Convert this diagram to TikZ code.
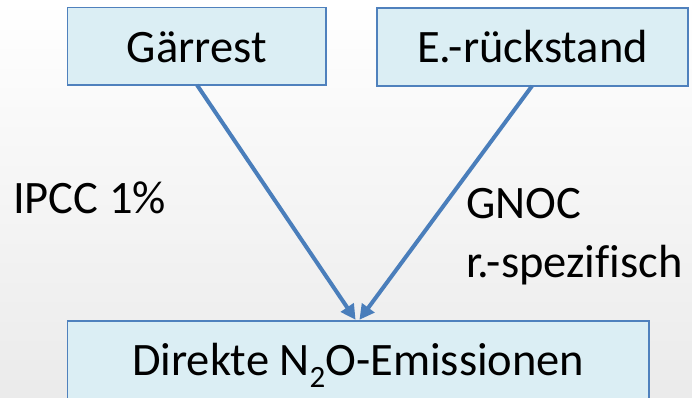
\documentclass[tikz,border=0pt]{standalone}
\usepackage{fontspec}
\setmainfont{Carlito}[Ligatures=CommonOff]
\usetikzlibrary{arrows.meta}
\definecolor{boxfill}{HTML}{DBEEF4}
\definecolor{boxline}{HTML}{4F81BD}
\definecolor{arrowc}{HTML}{4A7EBB}
\tikzset{
  bigfont/.style={font=\fontsize{46.5bp}{56bp}\selectfont},
  boxnode/.style={draw=boxline, line width=1.5bp, fill=boxfill, rectangle, inner sep=0pt,
    text height=32bp, text depth=0.5bp, bigfont},
  conn/.style={draw=arrowc, line width=4bp, -{Triangle[length=15bp,width=15bp]}, shorten >=-1bp},
  lbl/.style={inner sep=0pt, bigfont, text=black},
}
\begin{document}
\begin{tikzpicture}[x=1bp,y=-1bp]
\useasboundingbox (0,0) rectangle (692,397);
\shade[top color=white, bottom color=black!8] (0,0) rectangle (692,397);
\begin{scope}
\clip (0,0) rectangle (692,397);
\node[boxnode, minimum width=258.5bp, minimum height=77.5bp] (gar) at (196.75,46.25) {Gärrest};
\node[boxnode, minimum width=311bp, minimum height=78bp] (erk) at (532.5,47) {E.-rückstand};
\node[boxnode, minimum width=581.5bp, minimum height=77.5bp] (dir) at (358.25,359.6)
  {Direkte N\raisebox{-0.26em}{\fontsize{31bp}{31bp}\selectfont 2}O-Emissionen};
\end{scope}
\coordinate (t1) at (355,319);
\coordinate (t2) at (360,319);
\coordinate (s1) at (197,85);
\coordinate (s2) at (532,86);
\draw[conn] (s1) -- (t1);
\draw[conn] (s2) -- (t2);
\node[lbl, anchor=base west] (ipcc) at (13,213) {IPCC 1\%};
\node[lbl, anchor=base west] (gnoc) at (466,218) {GNOC};
\node[lbl, anchor=base west] (rspez) at (466,277) {r.-spezifisch};
\end{tikzpicture}
\end{document}
